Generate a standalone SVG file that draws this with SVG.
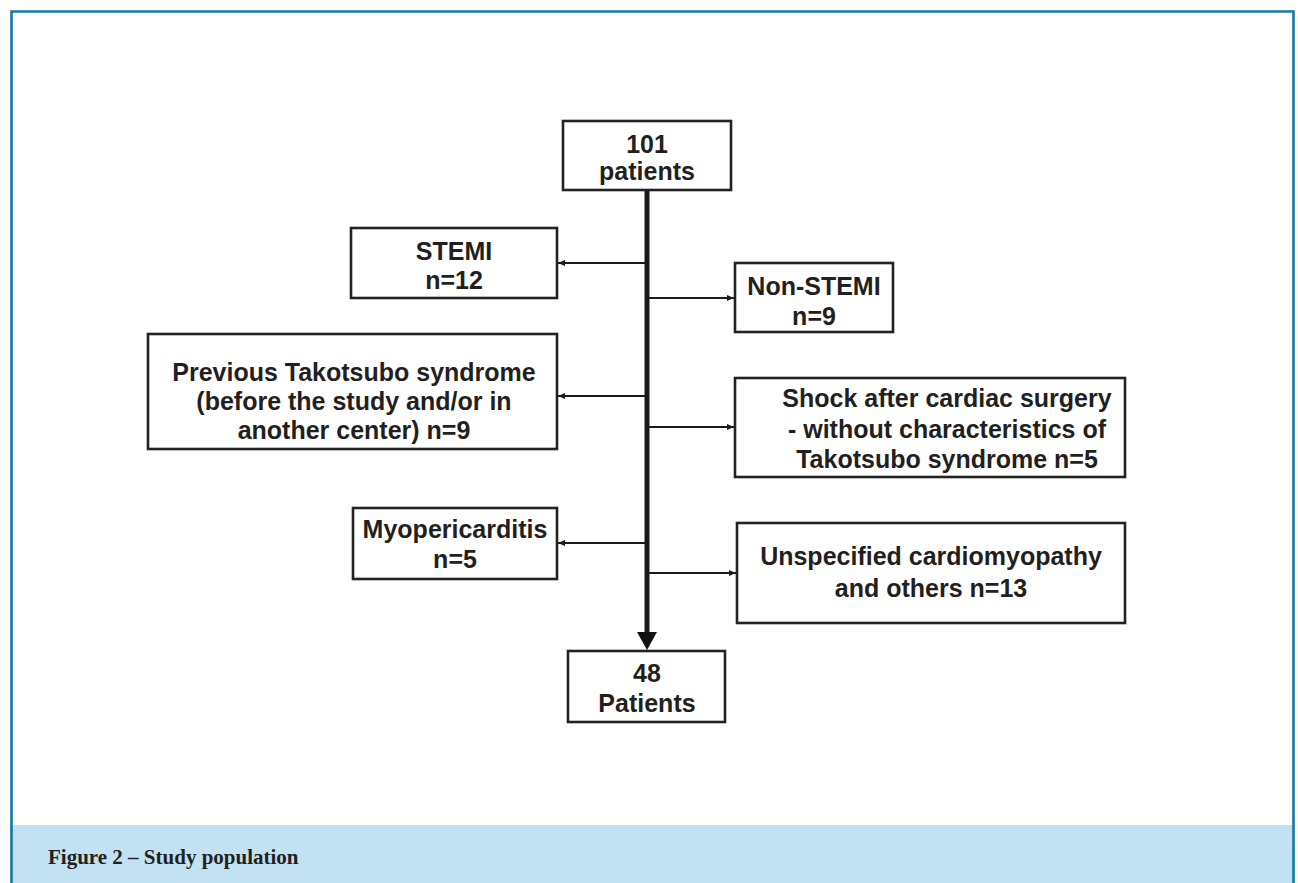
<svg xmlns="http://www.w3.org/2000/svg" width="1298" height="883" viewBox="0 0 1298 883">
<style>
.box{fill:#fff;stroke:#222;stroke-width:2.6}
.t{font-family:"Liberation Sans",Arial,sans-serif;font-weight:bold;font-size:25px;fill:#231f20;text-anchor:middle}
.c{stroke:#1a1a1a;stroke-width:2.2;fill:none}
.cap{font-family:"Liberation Serif","Times New Roman",serif;font-weight:bold;font-size:21px;fill:#231f20}
</style>
<defs>
<marker id="ah" markerUnits="userSpaceOnUse" markerWidth="8" markerHeight="8" refX="7" refY="4" orient="auto">
<path d="M0,1 L7,4 L0,7 z" fill="#1a1a1a"/>
</marker>
</defs>
<rect x="0" y="0" width="1298" height="883" fill="#fff"/>
<g id="frame">
<rect x="12" y="825" width="1282" height="58" fill="#c2e2f3"/>
<path d="M11.5,883 V11.5 H1293.5 V883" fill="none" stroke="#1578a0" stroke-width="2.6"/>
<text class="cap" x="48" y="864">Figure 2 – Study population</text>
</g>
<g id="connectors">
<line class="c" x1="647" y1="190" x2="647" y2="634" style="stroke-width:5"/>
<polygon points="637,632 657,632 647,650" fill="#111"/>
<line class="c" x1="647" y1="263" x2="558" y2="263" marker-end="url(#ah)"/>
<line class="c" x1="647" y1="298" x2="734" y2="298" marker-end="url(#ah)"/>
<line class="c" x1="647" y1="396" x2="558" y2="396" marker-end="url(#ah)"/>
<line class="c" x1="647" y1="427" x2="734" y2="427" marker-end="url(#ah)"/>
<line class="c" x1="647" y1="543" x2="558" y2="543" marker-end="url(#ah)"/>
<line class="c" x1="647" y1="573" x2="736" y2="573" marker-end="url(#ah)"/>
</g>
<g id="n-start">
<rect class="box" x="563" y="121" width="168" height="69"/>
<text class="t" x="647" y="153">101</text>
<text class="t" x="647" y="180">patients</text>
</g>
<g id="n-stemi">
<rect class="box" x="351" y="228" width="206" height="70"/>
<text class="t" x="454" y="260">STEMI</text>
<text class="t" x="454" y="289">n=12</text>
</g>
<g id="n-nonstemi">
<rect class="box" x="735" y="263" width="158" height="69"/>
<text class="t" x="814" y="295">Non-STEMI</text>
<text class="t" x="814" y="325">n=9</text>
</g>
<g id="n-previous">
<rect class="box" x="148" y="334" width="409" height="115"/>
<text class="t" x="354" y="381">Previous Takotsubo syndrome</text>
<text class="t" x="354" y="410">(before the study and/or in</text>
<text class="t" x="354" y="439">another center) n=9</text>
</g>
<g id="n-shock">
<rect class="box" x="735" y="378" width="390" height="99"/>
<text class="t" x="947" y="407">Shock after cardiac surgery</text>
<text class="t" x="947" y="438">- without characteristics of</text>
<text class="t" x="947" y="468">Takotsubo syndrome n=5</text>
</g>
<g id="n-myo">
<rect class="box" x="353" y="508" width="204" height="71"/>
<text class="t" x="455" y="538">Myopericarditis</text>
<text class="t" x="455" y="568">n=5</text>
</g>
<g id="n-unspecified">
<rect class="box" x="737" y="523" width="388" height="100"/>
<text class="t" x="931" y="565">Unspecified cardiomyopathy</text>
<text class="t" x="931" y="597">and others n=13</text>
</g>
<g id="n-end">
<rect class="box" x="568" y="651" width="157" height="71"/>
<text class="t" x="647" y="682">48</text>
<text class="t" x="647" y="712">Patients</text>
</g>
</svg>
